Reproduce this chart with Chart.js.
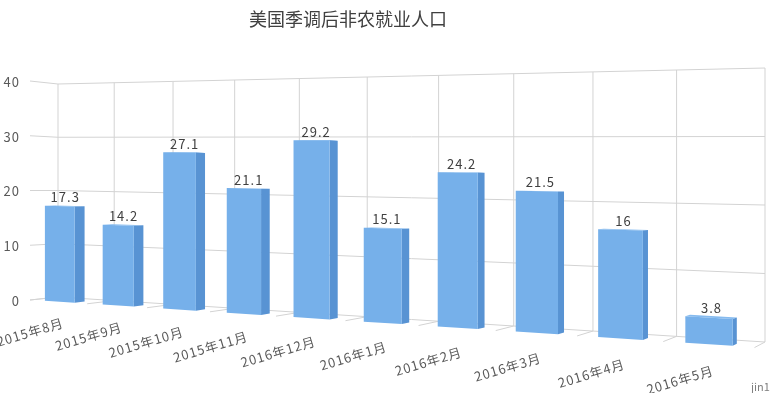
<!DOCTYPE html>
<html>
<head>
<meta charset="utf-8">
<script src="https://cdn.jsdelivr.net/npm/chart.js@4.4.1/dist/chart.umd.min.js"></script>
<style>
  html, body { margin: 0; padding: 0; background: #fff; }
  #wrap { width: 770px; height: 393px; position: relative; }
</style>
</head>
<body>
<div id="wrap"><canvas id="chart"></canvas></div>
<script>
const chartTitle = '美国季调后非农就业人口'
const months = ['2015年8月', '2015年9月', '2015年10月', '2015年11月', '2016年12月',
  '2016年1月', '2016年2月', '2016年3月', '2016年4月', '2016年5月']
const payrolls = [17.3, 14.2, 27.1, 21.1, 29.2, 15.1, 24.2, 21.5, 16, 3.8]
const yMin = 0
const yMax = 40
const yStep = 10
const watermark = 'jin10'

// where the back wall of the 3d box lands on the canvas: bottom-left, bottom-right, top-right, top-left
const wall = [[58, 297], [765, 342], [765, 68], [58, 84]]
const depthVanish = [1052, 190]
const depthRatio = 0.0274
const barFront = 0.95
const barBack = 0.59

const FONT = '"Noto Sans CJK SC", "Noto Sans", sans-serif'
const gridColor = '#d3d3d3'
const faceFront = '#76b0ea'
const faceSide = '#5893d3'
const faceTop = '#86bbef'

function makeHomography(q) {
  const [[x0, y0], [x1, y1], [x2, y2], [x3, y3]] = q
  const dx1 = x1 - x2, dx2 = x3 - x2, dx3 = x0 - x1 + x2 - x3
  const dy1 = y1 - y2, dy2 = y3 - y2, dy3 = y0 - y1 + y2 - y3
  const den = dx1 * dy2 - dx2 * dy1
  const g = (dx3 * dy2 - dx2 * dy3) / den
  const h = (dx1 * dy3 - dx3 * dy1) / den
  const a = x1 - x0 + g * x1, b = x3 - x0 + h * x3, c = x0
  const d = y1 - y0 + g * y1, e = y3 - y0 + h * y3, f = y0
  return (s, t) => {
    const w = g * s + h * t + 1
    return [(a * s + b * t + c) / w, (d * s + e * t + f) / w, w]
  }
}

const wallMap = makeHomography(wall)

// s: 0..1 along categories, t: 0..1 along values, d: 0 (back wall) .. 1 (front edge)
function project(s, t, d) {
  const [bx, by, w] = wallMap(s, t)
  const k = w / (w - depthRatio * d)
  return [depthVanish[0] + (bx - depthVanish[0]) * k, depthVanish[1] + (by - depthVanish[1]) * k]
}

function line(ctx, p, q) {
  ctx.beginPath()
  ctx.moveTo(p[0], p[1])
  ctx.lineTo(q[0], q[1])
  ctx.stroke()
}

function poly(ctx, pts, color) {
  ctx.beginPath()
  pts.forEach((p, i) => i ? ctx.lineTo(p[0], p[1]) : ctx.moveTo(p[0], p[1]))
  ctx.closePath()
  ctx.fillStyle = color
  ctx.fill()
}

function helpers(chart) {
  const area = chart.chartArea
  return {
    toS: px => (px - area.left) / (area.right - area.left),
    toT: py => (area.bottom - py) / (area.bottom - area.top)
  }
}

const perspective = {
  id: 'perspective',
  beforeDatasetsDraw(chart) {
    const ctx = chart.ctx
    const xs = chart.scales.x, ys = chart.scales.y
    const { toS, toT } = helpers(chart)
    const tickTs = ys.ticks.map(tk => toT(ys.getPixelForValue(tk.value)))

    // category boundaries, halfway between neighbouring category centres
    const centres = months.map((m, i) => xs.getPixelForValue(i))
    const bounds = [chart.chartArea.left]
    for (let i = 1; i < centres.length; i++) bounds.push((centres[i - 1] + centres[i]) / 2)
    bounds.push(chart.chartArea.right)
    const boundS = bounds.map(toS)

    ctx.save()
    ctx.strokeStyle = gridColor
    ctx.lineWidth = 1
    tickTs.forEach(t => {
      line(ctx, project(0, t, 0), project(1, t, 0))
      line(ctx, project(0, t, 0), project(0, t, 1))
    })
    boundS.forEach(s => {
      line(ctx, project(s, 0, 0), project(s, 1, 0))
      line(ctx, project(s, 0, 0), project(s, 0, 1))
    })

    ctx.fillStyle = '#595959'
    ctx.font = '13px ' + FONT
    ctx.letterSpacing = '1px'
    ctx.textAlign = 'right'
    ctx.textBaseline = 'middle'
    ys.ticks.forEach((tk, i) => {
      const p = project(0, tickTs[i], 1)
      ctx.fillText(String(tk.value), p[0] - 10, p[1] + 1)
    })
    ctx.restore()
  },
  afterDatasetsDraw(chart) {
    const ctx = chart.ctx
    const ys = chart.scales.y
    const { toS, toT } = helpers(chart)
    const unitT = toT(ys.getPixelForValue(yStep)) - toT(ys.getPixelForValue(0))
    const meta = chart.getDatasetMeta(0)

    ctx.save()
    ctx.letterSpacing = '1px'
    meta.data.forEach((bar, i) => {
      const { x, y, base, width } = bar.getProps(['x', 'y', 'base', 'width'], true)
      const s0 = toS(x - width / 2), s1 = toS(x + width / 2)
      const t0 = toT(base), t1 = toT(y)
      const f = barFront, b = barBack

      poly(ctx, [project(s0, t1, f), project(s1, t1, f), project(s1, t1, b), project(s0, t1, b)], faceTop)
      poly(ctx, [project(s1, t0, f), project(s1, t0, b), project(s1, t1, b), project(s1, t1, f)], faceSide)
      poly(ctx, [project(s0, t0, f), project(s1, t0, f), project(s1, t1, f), project(s0, t1, f)], faceFront)

      // value label above the bar
      const sm = (s0 + s1) / 2
      const top = project(sm, t1, (f + b) / 2)
      const front = project(s0, t1, f)
      ctx.fillStyle = '#404040'
      ctx.font = '13px ' + FONT
      ctx.textAlign = 'center'
      ctx.textBaseline = 'bottom'
      ctx.fillText(String(payrolls[i]), top[0] + 0.5, front[1] - 2)

      // slanted category label under the front edge
      const anchor = project(sm, -0.35 * unitT, 1)
      ctx.save()
      ctx.translate(anchor[0] + 5, anchor[1] + 1)
      ctx.rotate(-0.29)
      ctx.fillStyle = '#595959'
      ctx.textAlign = 'right'
      ctx.textBaseline = 'middle'
      ctx.fillText(months[i], 0, 0)
      ctx.restore()
    })

    ctx.letterSpacing = '0px'
    ctx.fillStyle = '#7f7f7f'
    ctx.font = '11px ' + FONT
    ctx.textAlign = 'left'
    ctx.textBaseline = 'alphabetic'
    ctx.fillText(watermark, 751, 391)
    ctx.restore()
  }
}

new Chart(document.getElementById('chart'), {
  type: 'bar',
  data: {
    labels: months,
    datasets: [{
      label: chartTitle,
      data: payrolls,
      backgroundColor: 'rgba(0,0,0,0)',
      borderWidth: 0,
      categoryPercentage: 1,
      barPercentage: 0.52
    }]
  },
  options: {
    responsive: true,
    maintainAspectRatio: false,
    animation: false,
    layout: { padding: { right: 74 } },
    scales: {
      x: { display: false },
      y: { display: false, min: yMin, max: yMax, ticks: { stepSize: yStep } }
    },
    plugins: {
      legend: { display: false },
      tooltip: { enabled: false },
      title: {
        display: true,
        text: chartTitle,
        color: '#404040',
        font: { size: 18, weight: 'normal', family: FONT },
        padding: { top: 8, bottom: 10 }
      }
    }
  },
  plugins: [perspective]
})
</script>
</body>
</html>
